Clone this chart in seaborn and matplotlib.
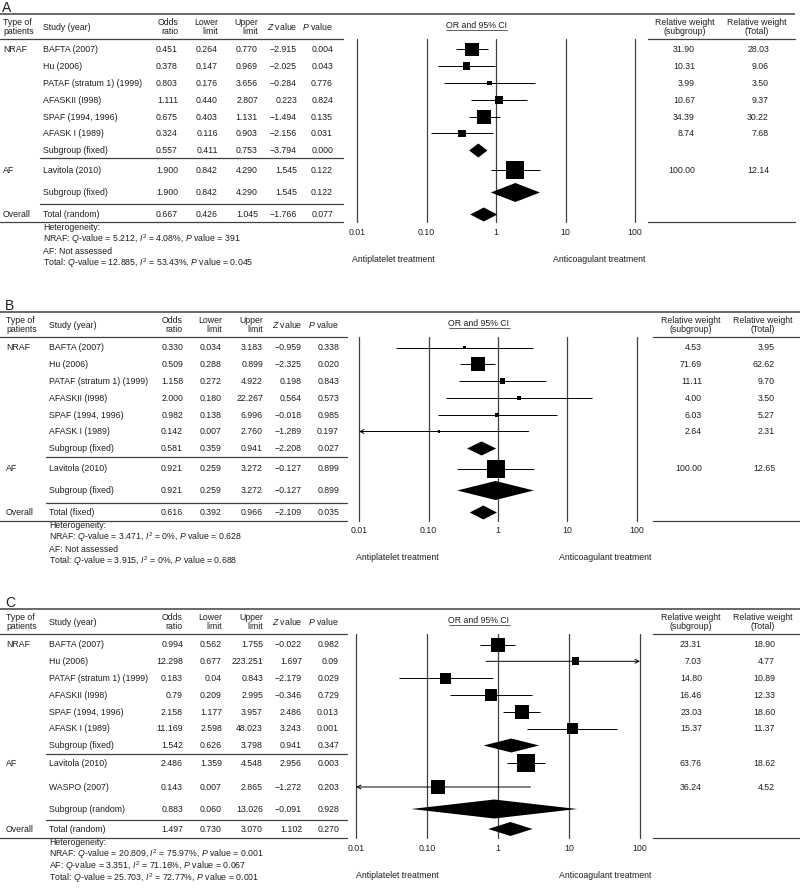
import numpy as np
import pandas as pd
import matplotlib
matplotlib.use("Agg")
import matplotlib.pyplot as plt
import seaborn as sns

sns.set_style("white")
plt.rcParams["font.family"] = ["Liberation Sans", "DejaVu Sans"]
plt.rcParams["mathtext.fontset"] = "custom"
plt.rcParams["mathtext.rm"] = "Liberation Sans"
plt.rcParams["mathtext.it"] = "Liberation Sans:italic"
plt.rcParams["mathtext.bf"] = "Liberation Sans:bold"

# ---------------- data ----------------
nraf_studies = ["BAFTA (2007)", "Hu (2006)", "PATAF (stratum 1) (1999)",
                "AFASKII (I998)", "SPAF (1994, 1996)", "AFASK I (1989)"]

# panel A
a_labels = nraf_studies + ["Subgroup (fixed)", "Lavitola (2010)", "Subgroup (fixed)", "Total (random)"]
a_odds = ["0.451", "0.378", "0.803", "1.111", "0.675", "0.324", "0.557", "1.900", "1.900", "0.667"]
a_lower = ["0.264", "0.147", "0.176", "0.440", "0.403", "0.116", "0.411", "0.842", "0.842", "0.426"]
a_upper = ["0.770", "0.969", "3.656", "2.807", "1.131", "0.903", "0.753", "4.290", "4.290", "1.045"]
a_z = ["-2.915", "-2.025", "-0.284", "0.223", "-1.494", "-2.156", "-3.794", "1.545", "1.545", "-1.766"]
a_p = ["0.004", "0.043", "0.776", "0.824", "0.135", "0.031", "0.000", "0.122", "0.122", "0.077"]
a_w_sub = ["31.90", "10.31", "3.99", "10.67", "34.39", "8.74", "100.00"]
a_w_tot = ["28.03", "9.06", "3.50", "9.37", "30.22", "7.68", "12.14"]
a_het = ["Heterogeneity:",
         r"NRAF: $Q$-value = 5.212, $I^2$ = 4.08%, $P$ value = 391",
         "AF: Not assessed",
         r"Total: $Q$-value = 12.885, $I^2$ = 53.43%, $P$ value = 0.045"]

# panel B
b_labels = nraf_studies + ["Subgroup (fixed)", "Lavitola (2010)", "Subgroup (fixed)", "Total (fixed)"]
b_odds = ["0.330", "0.509", "1.158", "2.000", "0.982", "0.142", "0.581", "0.921", "0.921", "0.616"]
b_lower = ["0.034", "0.288", "0.272", "0.180", "0.138", "0.007", "0.359", "0.259", "0.259", "0.392"]
b_upper = ["3.183", "0.899", "4.922", "22.267", "6.996", "2.760", "0.941", "3.272", "3.272", "0.966"]
b_z = ["-0.959", "-2.325", "0.198", "0.564", "-0.018", "-1.289", "-2.208", "-0.127", "-0.127", "-2.109"]
b_p = ["0.338", "0.020", "0.843", "0.573", "0.985", "0.197", "0.027", "0.899", "0.899", "0.035"]
b_w_sub = ["4.53", "71.69", "11.11", "4.00", "6.03", "2.64", "100.00"]
b_w_tot = ["3.95", "62.62", "9.70", "3.50", "5.27", "2.31", "12.65"]
b_het = ["Heterogeneity:",
         r"NRAF: $Q$-value = 3.471, $I^2$ = 0%, $P$ value = 0.628",
         "AF: Not assessed",
         r"Total: $Q$-value = 3.915, $I^2$ = 0%, $P$ value = 0.688"]

# panel C
c_labels = nraf_studies + ["Subgroup (fixed)", "Lavitola (2010)", "WASPO (2007)",
                           "Subgroup (random)", "Total (random)"]
c_odds = ["0.994", "12.298", "0.183", "0.79", "2.158", "11.169", "1.542", "2.486", "0.143", "0.883", "1.497"]
c_lower = ["0.562", "0.677", "0.04", "0.209", "1.177", "2.598", "0.626", "1.359", "0.007", "0.060", "0.730"]
c_upper = ["1.755", "223.251", "0.843", "2.995", "3.957", "48.023", "3.798", "4.548", "2.865", "13.026", "3.070"]
c_z = ["-0.022", "1.697", "-2.179", "-0.346", "2.486", "3.243", "0.941", "2.956", "-1.272", "-0.091", "1.102"]
c_p = ["0.982", "0.09", "0.029", "0.729", "0.013", "0.001", "0.347", "0.003", "0.203", "0.928", "0.270"]
c_w_sub = ["23.31", "7.03", "14.80", "16.46", "23.03", "15.37", "63.76", "36.24"]
c_w_tot = ["18.90", "4.77", "10.89", "12.33", "18.60", "11.37", "18.62", "4.52"]
c_het = ["Heterogeneity:",
         r"NRAF: $Q$-value = 20.809, $I^2$ = 75.97%, $P$ value = 0.001",
         r"AF: $Q$-value = 3.351, $I^2$ = 71.16%, $P$ value = 0.067",
         r"Total: $Q$-value = 25.703, $I^2$ = 72.77%, $P$ value = 0.001"]

# row kinds: s = study, d = subgroup diamond, t = total diamond
ab_kinds = ["s"] * 6 + ["d", "s", "d", "t"]
ab_groups = ["NRAF"] * 7 + ["AF"] * 2 + ["Overall"]
c_kinds = ["s"] * 6 + ["d", "s", "s", "d", "t"]
c_groups = ["NRAF"] * 7 + ["AF"] * 3 + ["Overall"]

axis_ticks = [0.01, 0.1, 1, 10, 100]
axis_ticklabels = ["0.01", "0.10", "1", "10", "100"]

# ---------------- layout (pixels) ----------------
W, H = 800, 888
TXT = "#1f1f1f"
LINE = "#404040"
FS = 6.3
BL = 2.9  # baseline offset from row centre

nraf_rows = [49.5, 66.3, 83.1, 99.9, 116.7, 133.5]
ab_layout = dict(rows=nraf_rows + [150.5, 170.5, 192.5, 214.5], seps=[158.5, 204.5], bottom=222.5)
c_layout = dict(rows=nraf_rows + [150.5, 168, 192, 214, 234], seps=[158.5, 225], bottom=243)

fig = plt.figure(figsize=(W / 100, H / 100), dpi=100)
ov = fig.add_axes([0, 0, 1, 1])
ov.set_xlim(0, W)
ov.set_ylim(H, 0)
ov.axis("off")


def fmt(v):
    return v.replace("-", "\u2212")


def txt(x, y, s, ha="left", **kw):
    # y is the visual centre of the line of text
    return ov.text(x, y + BL, s, fontsize=FS, color=TXT, va="baseline", ha=ha, **kw)


def draw_panel(top, letter, xs, rows_lay, labels, kinds, groups,
               odds, lower, upper, zval, pval, w_sub, w_tot, het):
    Y = lambda v: top + v
    rows = rows_lay["rows"]
    bottom = rows_lay["bottom"]
    tx, sx = xs["type"], xs["study"]
    cols = xs["cols"]
    tr = xs["table_right"]
    rl, rr = xs["right"]
    fl, fr = xs["forest"]

    ov.text(tx - 1, Y(12), letter, fontsize=10, color=TXT, va="baseline", ha="left")
    ov.plot([0, rr], [Y(14), Y(14)], color=LINE, lw=1.1, solid_capstyle="butt")

    # header
    hy = Y(27)
    ov.text(tx, hy, "Type of\npatients", fontsize=FS, color=TXT, va="center", ha="left", linespacing=1.05)
    txt(sx, hy, "Study (year)")
    heads = ["Odds\nratio", "Lower\nlimit", "Upper\nlimit"]
    for h, cx in zip(heads, cols[:3]):
        ov.text(cx, hy, h, fontsize=FS, color=TXT, va="center", ha="right",
                multialignment="right", linespacing=1.05)
    txt(cols[3], hy, "$Z$ value", ha="right")
    txt(cols[4], hy, "$P$ value", ha="right")
    ov.text(xs["wh"][0], hy, "Relative weight\n(subgroup)", fontsize=FS, color=TXT,
            va="center", ha="center", linespacing=1.05)
    ov.text(xs["wh"][1], hy, "Relative weight\n(Total)", fontsize=FS, color=TXT,
            va="center", ha="center", linespacing=1.05)
    t = txt(xs["orci"], Y(25.5), "OR and 95% CI", ha="center")
    bb = t.get_window_extent(fig.canvas.get_renderer())
    x0, x1 = bb.x0 / fig.dpi * 100, bb.x1 / fig.dpi * 100
    ov.plot([x0, x1], [Y(30), Y(30)], color=TXT, lw=0.5)

    # rules
    ov.plot([0, tr], [Y(39), Y(39)], color=LINE, lw=0.9)
    ov.plot([rl, rr], [Y(39), Y(39)], color=LINE, lw=0.9)
    for s in rows_lay["seps"]:
        ov.plot([sx - 3, tr], [Y(s), Y(s)], color=LINE, lw=0.9)
    ov.plot([0, tr], [Y(bottom), Y(bottom)], color=LINE, lw=0.9)
    ov.plot([rl, rr], [Y(bottom), Y(bottom)], color=LINE, lw=0.9)

    # table text
    seen = set()
    wi = 0
    for i, lab in enumerate(labels):
        y = Y(rows[i])
        if groups[i] not in seen:
            seen.add(groups[i])
            txt(tx, y, groups[i])
        txt(sx, y, lab)
        for v, cx in zip([odds[i], lower[i], upper[i], zval[i], pval[i]], cols):
            txt(cx, y, fmt(v), ha="right")
        if kinds[i] == "s":
            txt(xs["w"][0], y, w_sub[wi], ha="right")
            txt(xs["w"][1], y, w_tot[wi], ha="right")
            wi += 1

    for k, line in enumerate(het):
        txt(sx, Y(bottom + 4.5 + 12 * k), line)

    # forest axes: x log scale, y in figure pixels
    y0, y1 = Y(39), Y(bottom)
    ax = fig.add_axes([fl / W, 1 - y1 / H, (fr - fl) / W, (y1 - y0) / H])
    ax.set_xscale("log")
    for v in axis_ticks:
        ax.axvline(v, color=LINE, lw=0.9, clip_on=False, zorder=1)
    for v, lab in zip(axis_ticks, axis_ticklabels):
        ax.text(v, y1 + 10 + BL, lab, fontsize=FS, color=TXT, ha="center", va="baseline", clip_on=False)

    df = pd.DataFrame({
        "odds": np.array(odds, dtype=float),
        "lower": np.array(lower, dtype=float),
        "upper": np.array(upper, dtype=float),
        "y": [Y(r) for r in rows],
        "kind": kinds,
        "group": groups,
    })
    st = df[df["kind"] == "s"].copy()
    st["w"] = np.array(w_sub, dtype=float)
    side = []
    for g, w in zip(st["group"], st["w"]):
        gmax = st.loc[st["group"] == g, "w"].max()
        smax = 14 if g == "NRAF" else 18
        side.append(smax * np.sqrt(w / gmax))
    st["s"] = (np.array(side) * 0.72) ** 2

    # confidence intervals
    arrow = dict(arrowstyle="->", lw=0.7, color="black", shrinkA=0, shrinkB=0, mutation_scale=7)
    for _, r in st.iterrows():
        lo, up = r["lower"], r["upper"]
        if lo < 0.01:
            ax.annotate("", xy=(0.01, r["y"]), xytext=(up, r["y"]), arrowprops=arrow,
                        annotation_clip=False)
        elif up > 100:
            ax.annotate("", xy=(100, r["y"]), xytext=(lo, r["y"]), arrowprops=arrow,
                        annotation_clip=False)
        else:
            ax.hlines(r["y"], lo, up, color="black", lw=0.7, zorder=2)

    sns.scatterplot(data=st, x="odds", y="y", s=st["s"].values, marker="s",
                    color="black", linewidth=0, ax=ax, legend=False, zorder=3)

    # diamonds
    for _, r in df[df["kind"] != "s"].iterrows():
        h = 19 if (r["kind"] == "d" and r["group"] == "AF") else 14
        ax.fill([r["lower"], r["odds"], r["upper"], r["odds"]],
                [r["y"], r["y"] - h / 2, r["y"], r["y"] + h / 2],
                color="black", lw=0, zorder=3)

    ax.set_xlim(0.01, 100)
    ax.set_ylim(y1, y0)
    ax.axis("off")
    ax.patch.set_alpha(0)

    txt(xs["anti"][0], Y(bottom + 37), "Antiplatelet treatment")
    txt(xs["anti"][1], Y(bottom + 37), "Anticoagulant treatment")


xs_a = dict(type=3, study=43, cols=[178, 218, 258, 297, 333], table_right=343,
            right=(648, 795), forest=(357, 635), w=[695, 769], wh=[685, 757],
            orci=476, anti=(352, 553))
xs_bc = dict(type=6, study=49, cols=[183, 222, 263, 302, 339], table_right=347,
             right=(653, 800), forest=(359, 637), w=[702, 775], wh=[691, 763],
             orci=479, anti=(356, 559))
xs_c = dict(xs_bc, forest=(356, 640))

draw_panel(0, "A", xs_a, ab_layout, a_labels, ab_kinds, ab_groups,
           a_odds, a_lower, a_upper, a_z, a_p, a_w_sub, a_w_tot, a_het)
draw_panel(298, "B", xs_bc, ab_layout, b_labels, ab_kinds, ab_groups,
           b_odds, b_lower, b_upper, b_z, b_p, b_w_sub, b_w_tot, b_het)
draw_panel(595, "C", xs_c, c_layout, c_labels, c_kinds, c_groups,
           c_odds, c_lower, c_upper, c_z, c_p, c_w_sub, c_w_tot, c_het)

fig.savefig("out.png", dpi=100)
